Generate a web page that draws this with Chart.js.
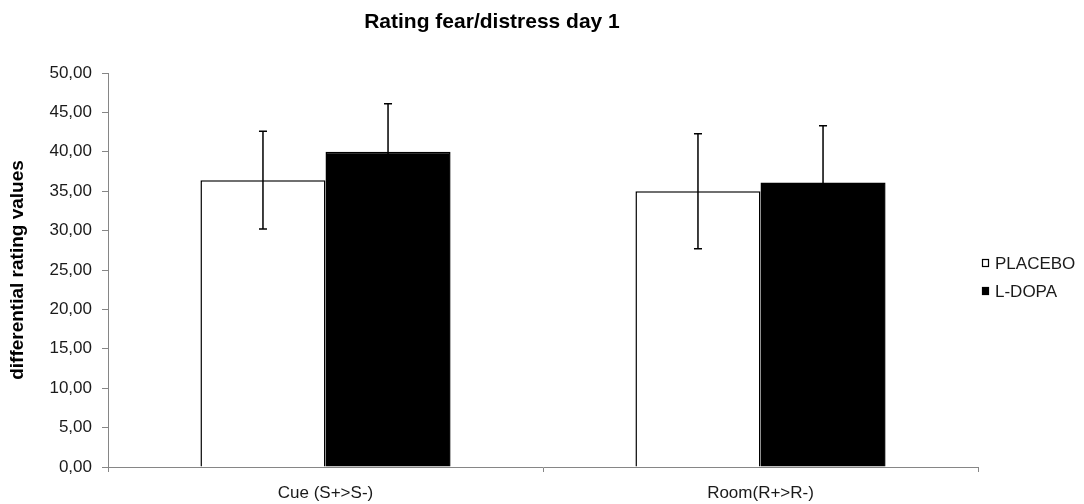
<!DOCTYPE html>
<html>
<head>
<meta charset="utf-8">
<script src="https://cdn.jsdelivr.net/npm/chart.js@4/dist/chart.umd.min.js"></script>
<style>
  html, body { margin: 0; padding: 0; background: #ffffff; }
  #wrap { width: 1084px; height: 504px; position: relative; }
</style>
</head>
<body>
<div id="wrap"><canvas id="chart" width="1084" height="504"></canvas></div>
<script>
// Categories and series
const categories = ['Cue (S+>S-)', 'Room(R+>R-)'];
const seriesNames = ['PLACEBO', 'L-DOPA'];
const placeboValues = [36.4, 35.0];
const placeboErrors = [6.2, 7.3];
const ldopaValues = [40.0, 36.1];
const ldopaErrors = [6.1, 7.2];
const yTicks = [0, 5, 10, 15, 20, 25, 30, 35, 40, 45, 50];
const chartTitle = 'Rating fear/distress day 1';
const yTitle = 'differential rating values';

const FONT = '"Liberation Sans", Arial, sans-serif';
const AXIS_GRAY = '#868686';
const TEXT = '#1a1a1a';

const fmt = v => Number(v).toFixed(2).replace('.', ',');

// Symmetric error bars drawn through the value scale
const errorBars = {
  id: 'errorBars',
  afterDatasetsDraw(chart) {
    const ctx = chart.ctx;
    const y = chart.scales.y;
    chart.data.datasets.forEach((ds, i) => {
      const meta = chart.getDatasetMeta(i);
      meta.data.forEach((bar, j) => {
        const v = ds.data[j], e = ds.errors[j];
        const top = y.getPixelForValue(v + e);
        const bot = y.getPixelForValue(v - e);
        ctx.save();
        ctx.strokeStyle = '#000000';
        ctx.lineWidth = 1.5;
        ctx.beginPath();
        ctx.moveTo(bar.x, top); ctx.lineTo(bar.x, bot);
        ctx.moveTo(bar.x - 4, top); ctx.lineTo(bar.x + 4, top);
        ctx.moveTo(bar.x - 4, bot); ctx.lineTo(bar.x + 4, bot);
        ctx.stroke();
        ctx.restore();
      });
    });
  }
};

// Title and compact legend
const decorations = {
  id: 'decorations',
  afterDraw(chart) {
    const ctx = chart.ctx;
    ctx.save();
    ctx.fillStyle = '#000';
    ctx.font = 'bold 21px ' + FONT;
    ctx.textAlign = 'center';
    ctx.textBaseline = 'alphabetic';
    ctx.fillText(chartTitle, 492, 28);

    ctx.font = '17px ' + FONT;
    ctx.textAlign = 'left';
    ctx.textBaseline = 'middle';
    chart.data.datasets.forEach((ds, i) => {
      const cy = 263 + i * 28;
      ctx.fillStyle = ds.backgroundColor;
      ctx.fillRect(982.5, cy - 3.5, 6, 7);
      ctx.strokeStyle = '#000';
      ctx.lineWidth = 1.2;
      ctx.strokeRect(982.5, cy - 3.5, 6, 7);
      ctx.fillStyle = TEXT;
      ctx.fillText(ds.label, 995, cy + 1);
    });
    ctx.restore();
  }
};

new Chart(document.getElementById('chart'), {
  type: 'bar',
  data: {
    labels: categories,
    datasets: [
      {
        label: seriesNames[0],
        data: placeboValues,
        errors: placeboErrors,
        backgroundColor: '#ffffff',
        borderColor: '#000000',
        borderWidth: 1.5
      },
      {
        label: seriesNames[1],
        data: ldopaValues,
        errors: ldopaErrors,
        backgroundColor: '#000000',
        borderColor: '#000000',
        borderWidth: 1.5
      }
    ]
  },
  options: {
    responsive: false,
    animation: false,
    events: [],
    layout: { padding: { left: 0, right: 106, top: 73, bottom: 0 } },
    datasets: { bar: { categoryPercentage: 0.575, barPercentage: 1.0 } },
    plugins: {
      legend: { display: false },
      title: { display: false },
      tooltip: { enabled: false }
    },
    scales: {
      x: {
        grid: { display: true, offset: true, drawOnChartArea: false, drawTicks: true, tickLength: 5, color: AXIS_GRAY },
        border: { display: true, color: AXIS_GRAY, width: 1 },
        ticks: { color: TEXT, font: { family: FONT, size: 17 }, padding: 11, maxRotation: 0 },
        afterFit(scale) { scale.height = 37; }
      },
      y: {
        min: 0,
        max: 50,
        afterBuildTicks(scale) { scale.ticks = yTicks.map(v => ({ value: v })); },
        grid: { display: true, drawOnChartArea: false, drawTicks: true, tickLength: 6, color: AXIS_GRAY },
        border: { display: true, color: AXIS_GRAY, width: 1 },
        ticks: { color: TEXT, font: { family: FONT, size: 17 }, padding: 10, callback: v => fmt(v) },
        title: { display: true, text: yTitle, color: '#000', font: { family: FONT, size: 19, weight: 'bold' }, padding: { top: 6, bottom: 0 } },
        afterFit(scale) { scale.width = 108; }
      }
    }
  },
  plugins: [errorBars, decorations]
});
</script>
</body>
</html>
